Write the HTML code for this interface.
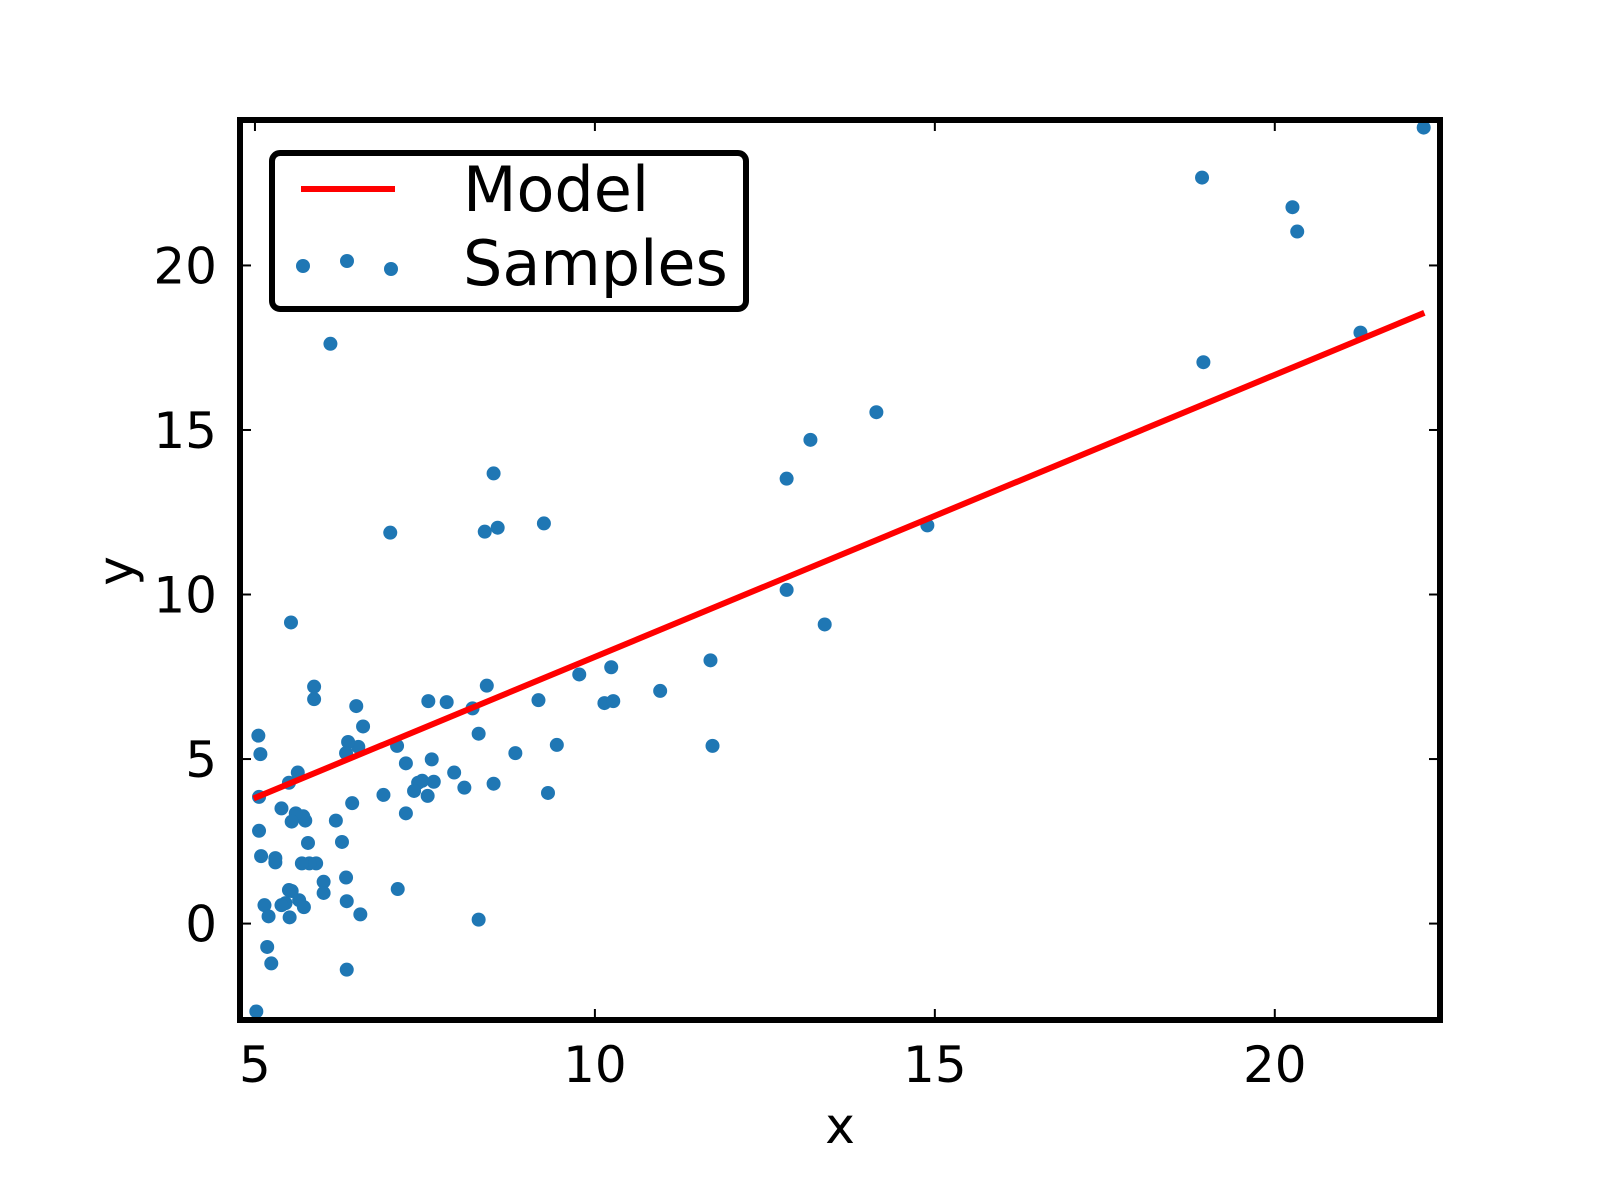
<!DOCTYPE html>
<html><head><meta charset="utf-8"><style>
html,body{margin:0;padding:0;background:#fff;}
svg{display:block;font-family:"DejaVu Sans","Liberation Sans",sans-serif;}
</style></head><body>
<svg id="chart" width="1600" height="1200" viewBox="0 0 1600 1200" xmlns="http://www.w3.org/2000/svg">
<rect width="1600" height="1200" fill="#fff"/>
<g id="ticks"></g>
<g id="points"></g>
<g id="model"></g>
<rect x="240" y="120" width="1200" height="900" fill="none" stroke="#000" stroke-width="6"/>
<text x="840" y="1143" font-size="50" text-anchor="middle">x</text>
<text transform="translate(133,571) rotate(-90)" font-size="50" text-anchor="middle">y</text>
<g>
<rect x="272" y="153" width="474" height="156" rx="8" fill="#fff" stroke="#000" stroke-width="6"/>
<line x1="301" y1="189" x2="395" y2="189" stroke="#ff0000" stroke-width="6"/>
<text x="463" y="211" font-size="62">Model</text>
<circle cx="303" cy="266" r="7" fill="#1f77b4"/>
<circle cx="347" cy="261" r="7" fill="#1f77b4"/>
<circle cx="391" cy="269" r="7" fill="#1f77b4"/>
<text x="463" y="285" font-size="62">Samples</text>
</g>
</svg>
<script>
const xTicks = [5, 10, 15, 20];
const yTicks = [0, 5, 10, 15, 20];
const sampleX = [22.19,18.93,20.26,20.33,21.26,18.95,6.11,14.14,13.17,12.82,8.51,8.38,8.57,9.25,6.99,14.89,12.82,13.38,5.53,11.70,11.73,10.96,10.24,10.14,10.27,9.77,9.17,9.44,9.31,8.83,8.51,8.41,8.29,8.20,8.29,8.08,7.93,7.82,7.55,7.63,7.60,7.54,7.46,7.40,7.34,7.22,7.22,7.09,7.10,6.89,6.59,6.49,6.52,6.37,6.34,6.43,6.55,6.34,6.35,6.35,6.28,6.19,6.01,6.01,5.87,5.87,5.90,5.78,5.80,5.69,5.74,5.71,5.63,5.60,5.54,5.50,5.65,5.54,5.50,5.72,5.45,5.39,5.51,5.39,5.30,5.30,5.14,5.20,5.09,5.18,5.24,5.06,5.05,5.08,5.06,5.02];
const sampleY = [24.19,22.67,21.77,21.03,17.96,17.06,17.62,15.54,14.70,13.52,13.68,11.91,12.03,12.16,11.88,12.10,10.14,9.09,9.15,8.00,5.40,7.07,7.79,6.70,6.76,7.57,6.79,5.43,3.97,5.18,4.25,7.23,5.77,6.54,0.12,4.13,4.59,6.73,6.76,4.31,4.99,3.88,4.34,4.28,4.03,4.87,3.35,5.40,1.05,3.91,5.99,6.61,5.37,5.52,5.18,3.66,0.28,1.40,0.68,-1.40,2.48,3.13,1.27,0.93,7.20,6.82,1.83,2.45,1.83,1.83,3.13,3.26,4.59,3.35,3.10,4.28,0.71,0.99,1.02,0.50,0.62,0.56,0.19,3.50,1.86,1.99,0.56,0.22,2.05,-0.71,-1.21,2.82,5.71,5.15,3.85,-2.67];
const modelX = [4.98, 22.20];
const modelParams = [-0.465, 0.857]; // intercept, slope

const X0=240,X1=1440,Y0=120,Y1=1020;
const xMin=4.78,xMax=22.43,yMin=-2.93,yMax=24.42;
function sx(v){return X0+(v-xMin)/(xMax-xMin)*(X1-X0);}
function sy(v){return Y1-(v-yMin)/(yMax-yMin)*(Y1-Y0);}
const NS="http://www.w3.org/2000/svg";
function mk(tag,attrs,parent){const e=document.createElementNS(NS,tag);for(const k in attrs)e.setAttribute(k,attrs[k]);parent.appendChild(e);return e;}
const tg=document.getElementById('ticks');
xTicks.forEach(t=>{
  const x=sx(t);
  let l=mk('line',{x1:x,y1:Y1,x2:x,y2:Y1-11,stroke:'#000','stroke-width':2},tg);
  
  
  l=mk('line',{x1:x,y1:Y0,x2:x,y2:Y0+11,stroke:'#000','stroke-width':2},tg);
  
  
  const tx=mk('text',{x:x,y:1082,'font-size':50,'text-anchor':'middle'},tg);
  tx.textContent=t;
  
  
});
yTicks.forEach(t=>{
  const y=sy(t);
  let l=mk('line',{x1:X0,y1:y,x2:X0+11,y2:y,stroke:'#000','stroke-width':2},tg);
  
  
  l=mk('line',{x1:X1,y1:y,x2:X1-11,y2:y,stroke:'#000','stroke-width':2},tg);
  
  
  const tx=mk('text',{x:217,y:y+18,'font-size':50,'text-anchor':'end'},tg);
  tx.textContent=t;
  
  
});
const pg=document.getElementById('points');
sampleX.forEach((v,i)=>{
  const c=mk('circle',{cx:sx(v),cy:sy(sampleY[i]),r:7,fill:'#1f77b4'},pg);
  
  
});
const mg=document.getElementById('model');
const ln=mk('line',{x1:sx(modelX[0]),y1:sy(modelParams[0]+modelParams[1]*modelX[0]),x2:sx(modelX[1]),y2:sy(modelParams[0]+modelParams[1]*modelX[1]),stroke:'#ff0000','stroke-width':6},mg);


</script>
</body></html>
